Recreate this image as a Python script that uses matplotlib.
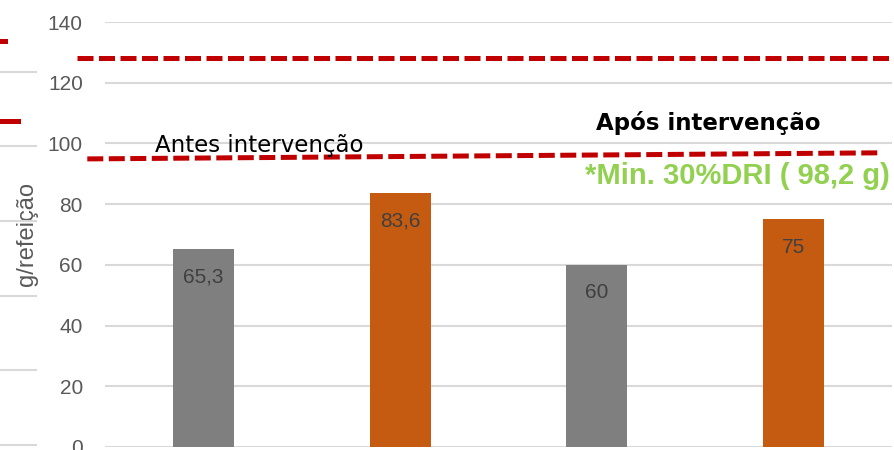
import matplotlib.pyplot as plt
from matplotlib.lines import Line2D

# Data
categories   = ["Antes A", "Antes B", "Após A", "Após B"]
values       = [65.3, 83.6, 60, 75]
value_labels = ["65,3", "83,6", "60", "75"]
bar_colors   = ["#7F7F7F", "#C55A11", "#7F7F7F", "#C55A11"]
y_ticks      = [0, 20, 40, 60, 80, 100, 120, 140]

# Reference lines (start value, end value)
upper_ref = (128.2, 128.2)
lower_ref = (94.9, 96.9)

plt.rcParams["font.family"] = ["Liberation Sans", "DejaVu Sans"]

figure = plt.figure(figsize=(8.94, 4.5), dpi=100)
axes   = figure.add_axes([105/894, 3/450, 787/894, 425/450])

x = range(len(categories))
axes.bar(x, values, width=0.31, color=bar_colors, zorder=2)

for xi, v, lab in zip(x, values, value_labels):
    axes.annotate(lab, xy=(xi, v), xytext=(0, -20), textcoords="offset points",
                  ha="center", va="center", fontsize=15, color="#404040", zorder=3)

axes.set_xlim(-0.5, 3.5)
axes.set_ylim(0, 140)
axes.set_yticks(y_ticks)
axes.set_xticks([])
axes.tick_params(axis="y", length=0, pad=16, labelsize=15, labelcolor="#595959")
axes.grid(axis="y", color="#D9D9D9", linewidth=1.5, zorder=0)
axes.set_axisbelow(True)
for spine in axes.spines.values():
    spine.set_visible(False)

axes.set_ylabel("g/refeição", fontsize=17, color="#595959")
axes.yaxis.set_label_coords(-0.085, 0.5)

# Dashed red reference lines, running past the axes on both sides
axes.plot([-0.642, 3.52], upper_ref, color="#C00000", linewidth=3.6,
          dashes=(3.2, 1.1), clip_on=False, zorder=4)
axes.plot([-0.59, 3.43], lower_ref, color="#C00000", linewidth=3.6,
          dashes=(3.2, 1.1), clip_on=False, zorder=4)

axes.text(-0.246, 97.3, "Antes intervenção", fontsize=16.5, family="DejaVu Sans",
          color="black", va="baseline", zorder=5)
axes.text(1.996, 104.4, "Após intervenção", fontsize=16.5, family="DejaVu Sans",
          fontweight="bold", color="black", va="baseline")
axes.text(1.94, 86.8, "*Min. 30%DRI ( 98,2 g)", fontsize=21,
          fontweight="bold", color="#92D050", va="baseline")

# Fragments of the chart lying behind, visible at the left edge
for yp in [72, 146, 221, 296, 370, 445]:
    figure.add_artist(Line2D([0, 36/894], [1 - yp/450, 1 - yp/450], color="#D9D9D9",
                             linewidth=1.5, transform=figure.transFigure))
figure.add_artist(Line2D([0, 5/894], [1 - 41/450] * 2, color="#C00000",
                         linewidth=3.6, transform=figure.transFigure))
figure.add_artist(Line2D([0, 18/894], [1 - 121/450] * 2, color="#C00000",
                         linewidth=3.6, transform=figure.transFigure))

figure.savefig("out.png", dpi=100)
